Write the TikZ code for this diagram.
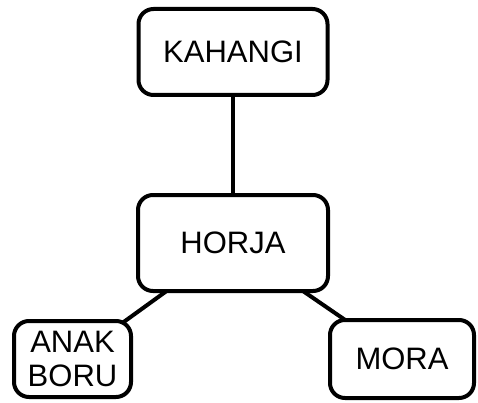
\documentclass[tikz,border=0pt]{standalone}
\usepackage{fontspec}
\setmainfont{Liberation Sans}
\usetikzlibrary{backgrounds}
\tikzset{
  box/.style={draw=black, fill=white, line width=4pt, rounded corners=15pt,
    inner sep=0pt, align=center, font=\fontsize{31}{34}\selectfont},
  link/.style={draw=black, line width=4pt}
}
\begin{document}
\begin{tikzpicture}[x=1pt,y=-1pt]
\useasboundingbox (0,0) rectangle (478,403);
\node[box, minimum width=189pt, minimum height=86pt] (kahangi) at (233,52) {KAHANGI};
\node[box, minimum width=190pt, minimum height=96pt] (horja) at (233,243) {HORJA};
\node[box, minimum width=117pt, minimum height=76pt] (anak) at (72.5,359) {ANAK\\BORU};
\node[box, minimum width=144pt, minimum height=78pt] (mora) at (402,359) {MORA};
\begin{scope}[on background layer]
\draw[link] (kahangi.center) -- (horja.center);
\draw[link] (horja.center) -- (anak.center);
\draw[link] (horja.center) -- (mora.center);
\end{scope}
\end{tikzpicture}
\end{document}
